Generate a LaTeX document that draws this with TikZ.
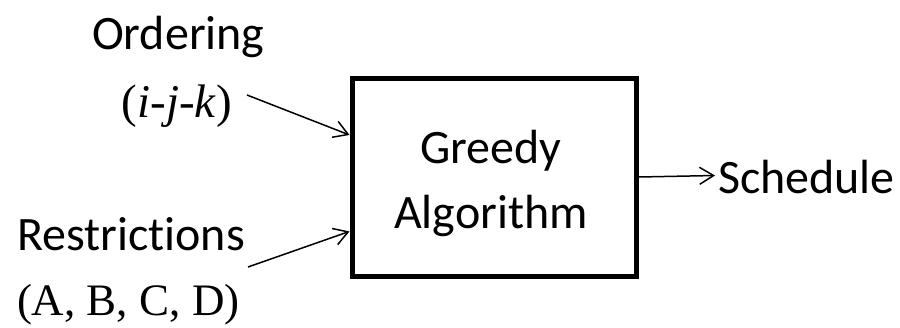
\documentclass[tikz,border=0pt]{standalone}
\usepackage{fontspec}
\setmainfont{Liberation Serif}
\newfontfamily\calib[RawFeature={-liga;-clig;-dlig}]{Carlito}
\usetikzlibrary{arrows.meta,calc}
\tikzset{
  lbl/.style={inner sep=0pt, outer sep=0pt, font=\calib\fontsize{48}{58}\selectfont},
  serlbl/.style={inner sep=0pt, outer sep=0pt, font=\fontsize{47}{56}\selectfont},
  conn/.style={line width=1.5pt, -{Straight Barb[length=14pt,width=17pt,line width=1.5pt]}},
  mainbox/.style={draw, line width=5pt, minimum width=284pt, minimum height=198pt, inner sep=0pt}
}
\begin{document}
\begin{tikzpicture}[x=1pt,y=-1pt]
\useasboundingbox (0,0) rectangle (900,327);
\node[mainbox] (box) at (494,177) {};
\node[lbl, anchor=base] (greedy) at (491,163) {Greedy};
\node[lbl, anchor=base] (algo) at (491,228) {Algorithm};
\node[lbl, anchor=base west] (ord) at (92,49) {Ordering};
\node[serlbl, anchor=base] (ijk) at (177,117) {(\textit{i}-\textit{j}-\textit{k})};
\node[lbl, anchor=base west] (res) at (17,250) {Restrictions};
\node[serlbl, font=\fontsize{45}{54}\selectfont, anchor=base west] (abcd) at (17,315) {(A, B, C, D)};
\node[lbl, anchor=base west] (sched) at (718,193) {Schedule};
\coordinate (s1) at (247,95);
\coordinate (s2) at (248,267);
\draw[conn] (s1) -- ($(box.north west)!0.293!(box.south west)$);
\draw[conn] (s2) -- ($(box.north west)!0.768!(box.south west)$);
\draw[conn] (box.east) -- ([xshift=-3pt,yshift=1pt]sched.west);
\end{tikzpicture}
\end{document}
